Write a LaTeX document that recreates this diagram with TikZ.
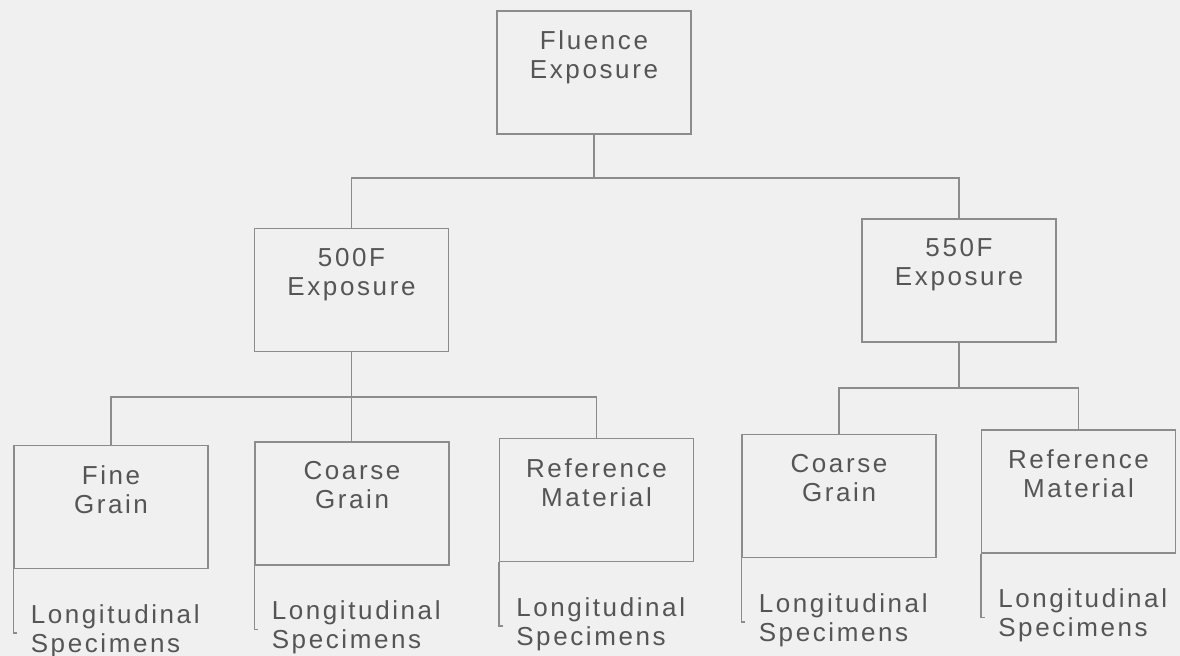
\documentclass[tikz,border=0pt]{standalone}
\usepackage{fontspec}
\setmainfont{Liberation Sans}[LetterSpace=10]
\definecolor{paper}{RGB}{240,240,240}
\definecolor{ink}{RGB}{85,85,85}

\tikzset{
  box/.style={draw=black!45, line width=0.6pt, minimum width=97pt, minimum height=61.5pt, inner sep=0pt},
  boxtxt/.style={anchor=north, inner sep=0pt, align=center, yshift=-10pt, text=ink},
  spec/.style={anchor=north west, inner sep=0pt, align=left, xshift=8.5pt, yshift=-17.5pt, text=ink},
  wire/.style={black!45, line width=0.6pt}
}

\begin{document}
\begin{tikzpicture}[x=0.5pt, y=-0.5pt, font=\fontsize{13}{14.5}\selectfont]
\fill[paper] (0,0) rectangle (1180,656);
\useasboundingbox (0,0) rectangle (1180,656);

% top level
\node[box, label={[boxtxt]north:Fluence\\Exposure}] (fluence) at (594,72.5) {};

% exposure temperatures
\node[box, label={[boxtxt]north:500F\\Exposure}] (p500) at (351.5,290) {};
\node[box, label={[boxtxt]north:550F\\Exposure}] (p550) at (959,280.5) {};

% material groups
\node[box, label={[boxtxt]north:Fine\\Grain}] (fine) at (111,507) {};
\node[box, label={[boxtxt]north:Coarse\\Grain}] (coarseA) at (352,503.5) {};
\node[box, label={[boxtxt]north:Reference\\Material}] (refA) at (596.5,500) {};
\node[box, label={[boxtxt]north:Coarse\\Grain}] (coarseB) at (839,496) {};
\node[box, label={[boxtxt]north:Reference\\Material}] (refB) at (1078.5,491.5) {};

% specimen notes
\node[spec] (fineS) at (fine.south west) {Longitudinal\\Specimens};
\node[spec] (coarseAS) at (coarseA.south west) {Longitudinal\\Specimens};
\node[spec] (refAS) at (refA.south west) {Longitudinal\\Specimens};
\node[spec] (coarseBS) at (coarseB.south west) {Longitudinal\\Specimens};
\node[spec] (refBS) at (refB.south west) {Longitudinal\\Specimens};

% buses
\coordinate (busA) at (594,178);
\coordinate (busB) at (351.5,397);
\coordinate (busC) at (959,388);

\draw[wire] (fluence.south) -- (busA);
\draw[wire] (p500.north) |- (busA) -| (p550.north);
\draw[wire] (p500.south) -- (p500.south |- coarseA.north);
\draw[wire] (fine.north) |- (busB) -| (refA.north);
\draw[wire] (p550.south) -- (busC);
\draw[wire] (coarseB.north) |- (busC) -| (refB.north);

% brackets
\draw[wire] (fine.south west) -- ++(0,64) -- ++(4,0);
\draw[wire] (coarseA.south west) -- ++(0,64) -- ++(4,0);
\draw[wire] (refA.south west) -- ++(0,64) -- ++(4,0);
\draw[wire] (coarseB.south west) -- ++(0,64) -- ++(4,0);
\draw[wire] (refB.south west) -- ++(0,64) -- ++(4,0);
\end{tikzpicture}
\end{document}
